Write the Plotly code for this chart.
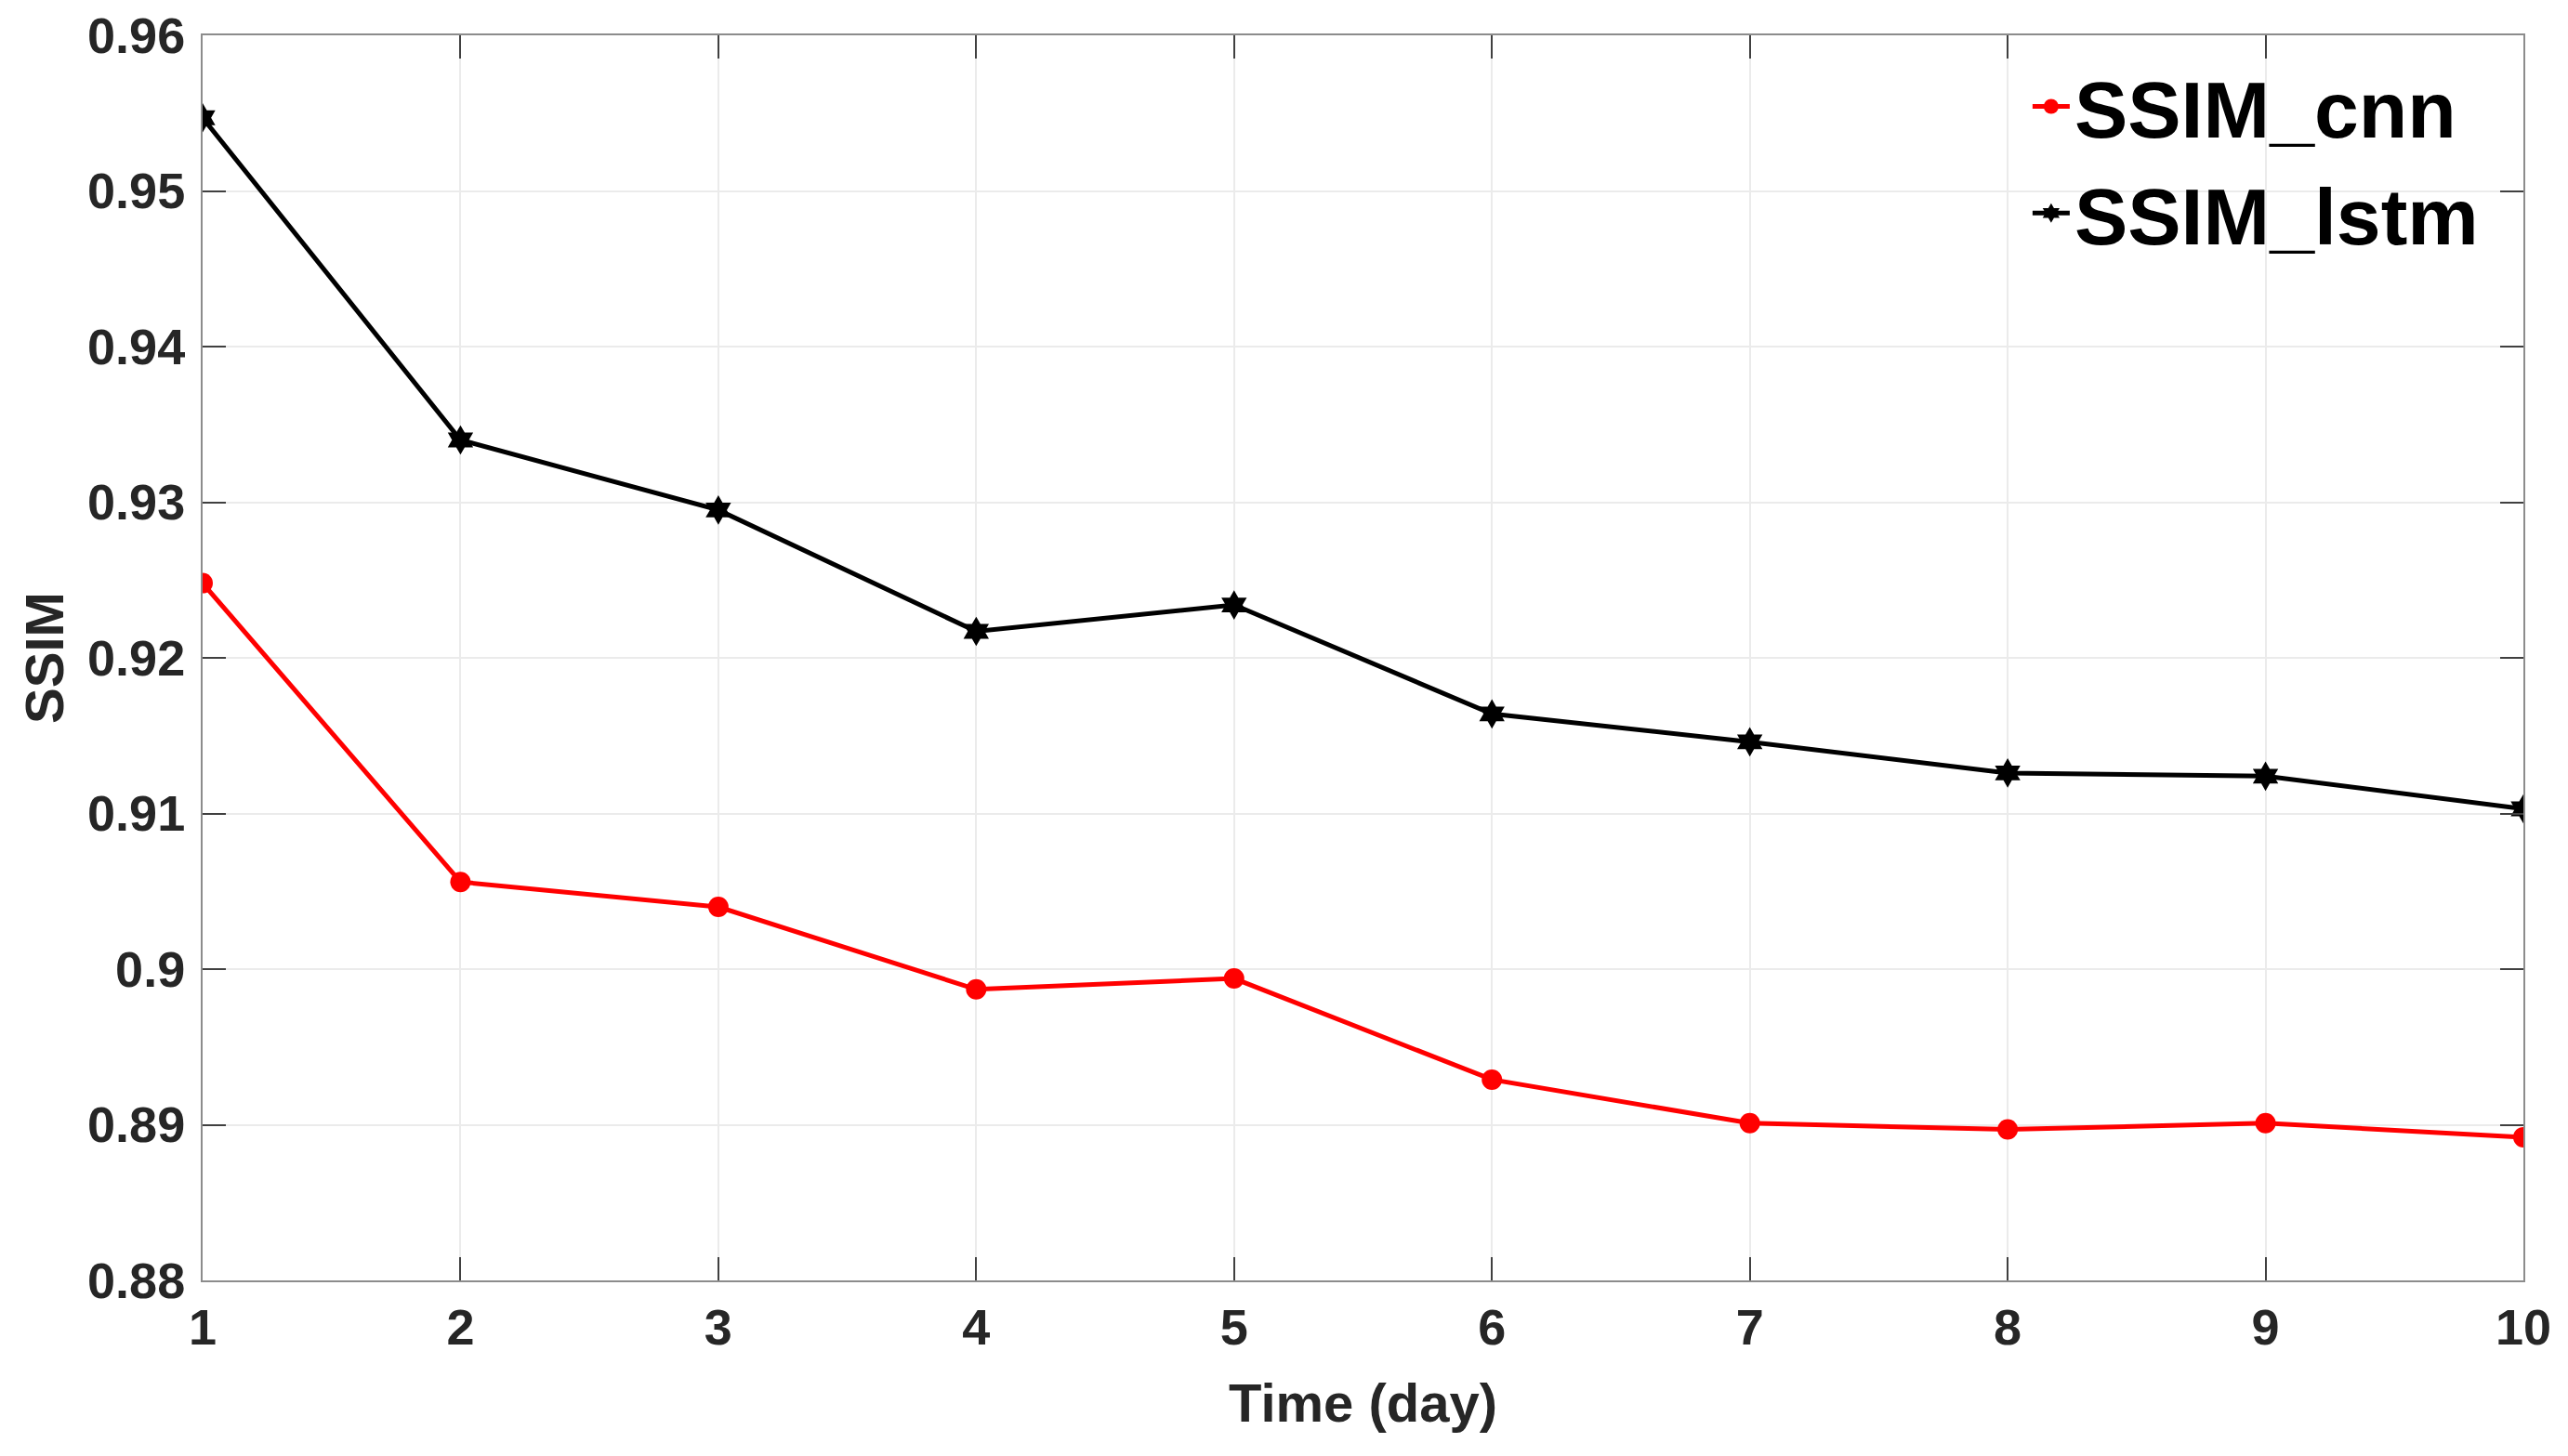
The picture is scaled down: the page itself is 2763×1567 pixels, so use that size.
import plotly.graph_objects as go

days = [1, 2, 3, 4, 5, 6, 7, 8, 9, 10]
ssim_cnn = [0.9248, 0.9056, 0.9040, 0.8987, 0.8994, 0.8929, 0.8901, 0.8897, 0.8901, 0.8892]
ssim_lstm = [0.9547, 0.9340, 0.9295, 0.9217, 0.9234, 0.9164, 0.9146, 0.9126, 0.9124, 0.9103]
y_ticks = [0.88, 0.89, 0.90, 0.91, 0.92, 0.93, 0.94, 0.95, 0.96]
y_ticklabels = ["0.88", "0.89", "0.9", "0.91", "0.92", "0.93", "0.94", "0.95", "0.96"]

FONT = "Liberation Sans, Arial, sans-serif"
TXT = "#262626"

fig = go.Figure()
fig.add_trace(go.Scatter(
    x=days, y=ssim_cnn, mode="lines+markers", name="SSIM_cnn",
    line=dict(color="#ff0000", width=5),
    marker=dict(symbol="circle", size=22, color="#ff0000"),
))
fig.add_trace(go.Scatter(
    x=days, y=ssim_lstm, mode="lines+markers", name="SSIM_lstm",
    line=dict(color="#000000", width=5),
    marker=dict(symbol="hexagram", size=24, color="#000000"),
))

axis_common = dict(
    showline=True, linecolor="#8c8c8c", linewidth=2, mirror="ticks",
    showgrid=True, gridcolor="#ebebeb", gridwidth=2,
    ticks="inside", ticklen=25, tickwidth=2, tickcolor="#404040",
    tickfont=dict(family=FONT, size=54, color=TXT, weight="bold"),
    zeroline=False, ticklabeloverflow="allow", automargin=False,
)

fig.update_xaxes(
    range=[1, 10], tickmode="array", tickvals=days,
    ticklabelstandoff=2, **axis_common,
)
fig.update_yaxes(
    range=[0.88, 0.96], tickmode="array", tickvals=y_ticks, ticktext=y_ticklabels,
    ticklabelstandoff=6, **axis_common,
)

fig.add_annotation(
    text="Time (day)", xref="paper", yref="paper", x=0.5, y=-0.0985,
    xanchor="center", yanchor="middle", showarrow=False,
    font=dict(family=FONT, size=58, color=TXT, weight="bold"),
)
fig.add_annotation(
    text="SSIM", xref="paper", yref="paper", x=-0.0685, y=0.5,
    xanchor="center", yanchor="middle", showarrow=False, textangle=-90,
    font=dict(family=FONT, size=58, color=TXT, weight="bold"),
)

fig.update_layout(
    width=2763, height=1567,
    margin=dict(l=210, r=56, t=30, b=197, autoexpand=False),
    paper_bgcolor="white", plot_bgcolor="white",
    showlegend=True,
    legend=dict(
        x=0.7865, y=0.9895, xanchor="left", yanchor="top",
        bgcolor="rgba(255,255,255,0)", borderwidth=0,
        font=dict(family=FONT, size=86, color="#000000", weight="bold"),
        itemwidth=40, tracegroupgap=0,
    ),
)

fig.write_html("out.html")
